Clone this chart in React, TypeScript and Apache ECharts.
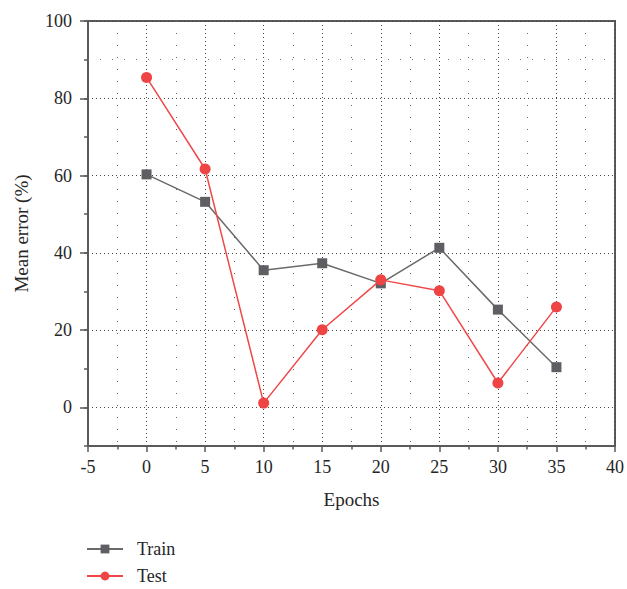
import React, { useEffect, useRef } from "react";
import * as echarts from "echarts";

const epochs = [0, 5, 10, 15, 20, 25, 30, 35];
const trainError = [60.3, 53.2, 35.5, 37.3, 32.1, 41.3, 25.3, 10.4];
const testError = [85.4, 61.7, 1.1, 20.1, 33.0, 30.2, 6.3, 26.0];
const seriesNames = ["Train", "Test"];
const xTitle = "Epochs";
const yTitle = "Mean error (%)";

const FONT = "Liberation Serif";
const AXIS_COLOR = "#5a5a5a";
const TEXT_COLOR = "#262626";

export default function App() {
  const ref = useRef<HTMLDivElement>(null);
  useEffect(() => {
    if (!ref.current) return;
    const chart = echarts.init(ref.current, undefined, { renderer: "svg" });
    const gridTop = 21;
    const gridBottomPx = 446;
    const zeroPx = gridBottomPx - (10 * (gridBottomPx - gridTop)) / 110;
    chart.setOption({
      animation: false,
      textStyle: { fontFamily: FONT },
      grid: [
        {
          left: 88,
          right: 11,
          top: gridTop,
          bottom: 589 - gridBottomPx,
          show: true,
          borderColor: AXIS_COLOR,
          borderWidth: 2,
          backgroundColor: "transparent",
        },
        {
          left: 88,
          right: 11,
          top: gridTop,
          bottom: 589 - zeroPx,
          show: false,
        },
      ],
      xAxis: [
        {
          type: "value",
          gridIndex: 0,
          min: -5,
          max: 40,
          interval: 5,
          name: xTitle,
          nameLocation: "middle",
          nameGap: 44,
          nameTextStyle: { fontFamily: FONT, fontSize: 19, color: TEXT_COLOR },
          axisLine: { show: true, onZero: false, lineStyle: { color: AXIS_COLOR, width: 2 } },
          axisTick: { show: true, inside: false, length: 6, lineStyle: { color: AXIS_COLOR, width: 1.5 } },
          minorTick: { show: true, splitNumber: 2, length: 3.5, lineStyle: { color: AXIS_COLOR, width: 1.5 } },
          axisLabel: { fontFamily: FONT, fontSize: 18, color: TEXT_COLOR, margin: 12 },
          splitLine: { show: true, lineStyle: { color: "#444", width: 1, type: [1, 3] } },
          minorSplitLine: { show: true, lineStyle: { color: "#666", width: 1, type: [1, 11] } },
        },
        {
          type: "value",
          gridIndex: 1,
          min: -5,
          max: 40,
          interval: 5,
          show: false,
        },
      ],
      yAxis: [
        {
          type: "value",
          gridIndex: 0,
          min: -10,
          max: 100,
          interval: 10,
          name: yTitle,
          nameLocation: "middle",
          nameGap: 57,
          nameTextStyle: { fontFamily: FONT, fontSize: 19, color: TEXT_COLOR },
          axisLine: { show: true, onZero: false, lineStyle: { color: AXIS_COLOR, width: 2 } },
          axisTick: { show: true, inside: false, length: 4, lineStyle: { color: AXIS_COLOR, width: 1.5 } },
          axisLabel: { show: false },
          splitLine: { show: false },
        },
        {
          type: "value",
          gridIndex: 1,
          min: 0,
          max: 100,
          interval: 20,
          axisLine: { show: false, onZero: false },
          axisTick: { show: true, inside: false, length: 8, lineStyle: { color: AXIS_COLOR, width: 1.5 } },
          axisLabel: { fontFamily: FONT, fontSize: 18, color: TEXT_COLOR, margin: 16 },
          splitLine: { show: true, lineStyle: { color: "#444", width: 1, type: [1, 3] } },
        },
      ],
      legend: {
        orient: "vertical",
        left: 86,
        top: 540,
        padding: 0,
        itemWidth: 36,
        itemHeight: 11,
        itemGap: 9,
        textStyle: { fontFamily: FONT, fontSize: 18, color: TEXT_COLOR, padding: [0, 0, 0, 9] },
        data: seriesNames,
      },
      series: [
        {
          name: seriesNames[0],
          type: "line",
          xAxisIndex: 0,
          yAxisIndex: 0,
          data: epochs.map((e, i) => [e, trainError[i]]),
          symbol: "rect",
          symbolSize: 10,
          lineStyle: { color: "#6a6a6a", width: 1.5 },
          itemStyle: { color: "#5f5f63" },
          z: 3,
          markLine: {
            silent: true,
            symbol: "none",
            label: { show: false },
            lineStyle: { color: "#777", width: 1, type: [1, 11] },
            data: [{ yAxis: 90 }],
            z: 1,
          },
        },
        {
          name: seriesNames[1],
          type: "line",
          xAxisIndex: 0,
          yAxisIndex: 0,
          data: epochs.map((e, i) => [e, testError[i]]),
          symbol: "circle",
          symbolSize: 11,
          lineStyle: { color: "#f04848", width: 1.5 },
          itemStyle: { color: "#ee4444" },
          z: 4,
        },
      ],
    });
    return () => chart.dispose();
  }, []);
  return (
    <div
      ref={ref}
      style={{ position: "fixed", left: 0, top: 0, width: 627, height: 589, background: "#fff" }}
    />
  );
}
